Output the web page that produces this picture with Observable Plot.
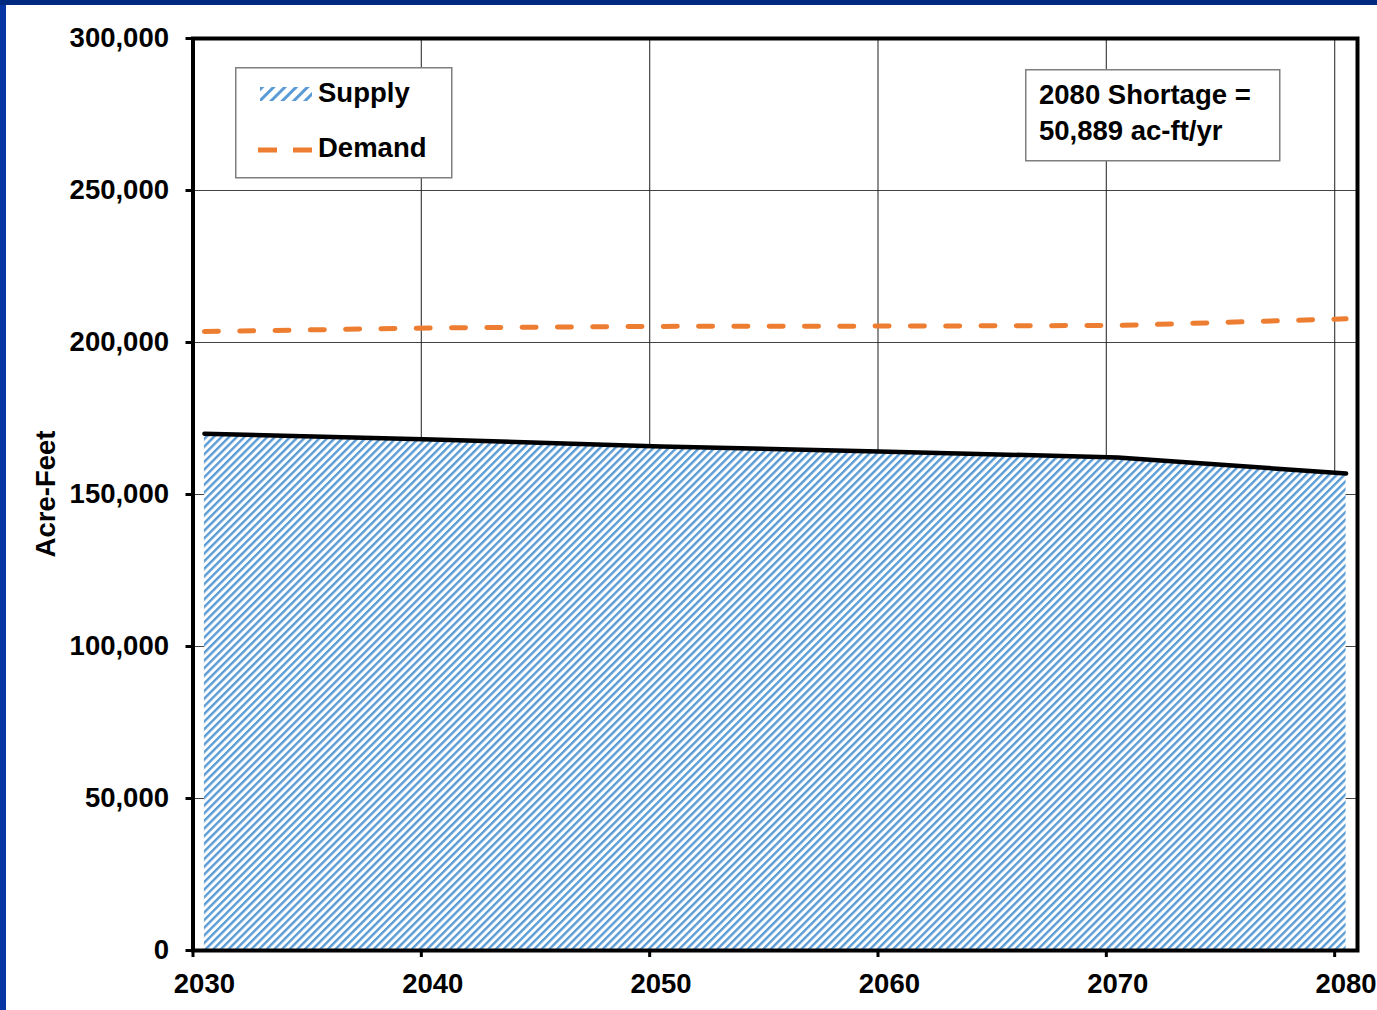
<!DOCTYPE html>
<html><head><meta charset="utf-8">
<script src="https://cdn.jsdelivr.net/npm/d3@7"></script>
<script src="https://cdn.jsdelivr.net/npm/@observablehq/plot@0.6"></script>
<style>
html,body{margin:0;padding:0;background:#fff;}
body{width:1377px;height:1010px;position:relative;overflow:hidden;font-family:"Liberation Sans",Arial,sans-serif;font-weight:bold;}
#bl{position:absolute;left:0;top:0;width:6px;height:1010px;background:#0536a3;z-index:5;}
#bt{position:absolute;left:0;top:0;width:1377px;height:5px;background:#002a7f;z-index:5;}
#chart{position:absolute;left:0;top:0;}
.ov{position:absolute;}
#ytitle{position:absolute;left:46px;top:494px;transform:translate(-50%,-50%) rotate(-90deg);font-size:27.5px;white-space:nowrap;color:#000;}
</style></head>
<body>
<div id="bl"></div><div id="bt"></div>
<div id="chart"></div>
<div id="ytitle">Acre-Feet</div>
<svg class="ov" style="left:235px;top:67px" width="219" height="113">
  <defs>
    <pattern id="hatchL" patternUnits="userSpaceOnUse" width="8" height="8" patternTransform="rotate(45)">
      <rect x="0" y="0" width="3" height="8" fill="#5B9BD5"></rect>
    </pattern>
  </defs>
  <rect x="0.75" y="0.75" width="216" height="110" fill="#fff" stroke="#7f7f7f" stroke-width="1.5"></rect>
  <rect x="25" y="20" width="52" height="14" fill="url(#hatchL)"></rect>
  <text x="83" y="35" font-size="27.5" font-weight="bold" font-family="Liberation Sans, Arial, sans-serif">Supply</text>
  <line x1="23" x2="78" y1="83" y2="83" stroke="#ED7D31" stroke-width="5" stroke-dasharray="19,16"></line>
  <text x="83" y="90" font-size="27.5" font-weight="bold" font-family="Liberation Sans, Arial, sans-serif">Demand</text>
</svg>
<svg class="ov" style="left:1025px;top:69px" width="257" height="94">
  <rect x="0.75" y="0.75" width="254" height="91" fill="#fff" stroke="#7f7f7f" stroke-width="1.5"></rect>
  <text x="14" y="34.5" font-size="27.5" font-weight="bold" font-family="Liberation Sans, Arial, sans-serif">2080 Shortage =</text>
  <text x="14" y="71" font-size="27.5" font-weight="bold" font-family="Liberation Sans, Arial, sans-serif">50,889 ac-ft/yr</text>
</svg>
<script>
const years = [2030, 2040, 2050, 2060, 2070, 2080];
const supply = [170000, 168100, 165800, 164100, 162200, 156900];
const demand = [203600, 204800, 205300, 205400, 205600, 207789];
const yTicks = [0, 50000, 100000, 150000, 200000, 250000, 300000];
const gridYears = [2040, 2050, 2060, 2070, 2080];

const rows = years.map((year, i) => ({year, supply: supply[i], demand: demand[i]}));
const xPos = d => d.year + 0.5;

const chart = Plot.plot({
  width: 1377, height: 1010,
  marginLeft: 192.5, marginRight: 20, marginTop: 38, marginBottom: 60,
  x: {domain: [2030, 2081]},
  y: {domain: [0, 300000]},
  style: {fontFamily: "Liberation Sans, Arial, sans-serif", fontWeight: "bold", fontSize: "27.5px", color: "#000", background: "transparent"},
  marks: [
    Plot.gridY({ticks: yTicks, stroke: "#222", strokeOpacity: 0.85, strokeWidth: 1.2}),
    Plot.gridX({ticks: gridYears, stroke: "#222", strokeOpacity: 0.85, strokeWidth: 1.2}),
    Plot.areaY(rows, {x: xPos, y: "supply", fill: "#fff"}),
    Plot.areaY(rows, {x: xPos, y: "supply", fill: "url(#hatch)"}),
    Plot.lineY(rows, {x: xPos, y: "supply", stroke: "#000", strokeWidth: 4.5, strokeLinecap: "round"}),
    Plot.lineY(rows, {x: xPos, y: "demand", stroke: "#ED7D31", strokeWidth: 5, strokeDasharray: "14,21.3", strokeLinecap: "round"}),
    Plot.frame({stroke: "#000", strokeWidth: 4}),
    Plot.axisY({ticks: yTicks, tickSize: 7, strokeWidth: 3, tickPadding: 17, tickFormat: d3.format(","), label: null, fontSize: 27.5}),
    Plot.axisX({ticks: years, tickSize: 7, strokeWidth: 3, tickFormat: () => "", label: null}),
    Plot.axisX({ticks: years, tickSize: 0, tickPadding: 23, dx: 11.4, tickFormat: d => String(d), label: null, fontSize: 27.5})
  ]
});

const defs = d3.select(chart).insert("defs", ":first-child");
defs.append("pattern")
  .attr("id", "hatch").attr("patternUnits", "userSpaceOnUse")
  .attr("width", 5.4).attr("height", 5.4).attr("patternTransform", "rotate(45)")
  .append("rect").attr("x", 0).attr("y", 0).attr("width", 2.4).attr("height", 5.4).attr("fill", "#5B9BD5");

document.getElementById("chart").appendChild(chart);
</script>
</body></html>
